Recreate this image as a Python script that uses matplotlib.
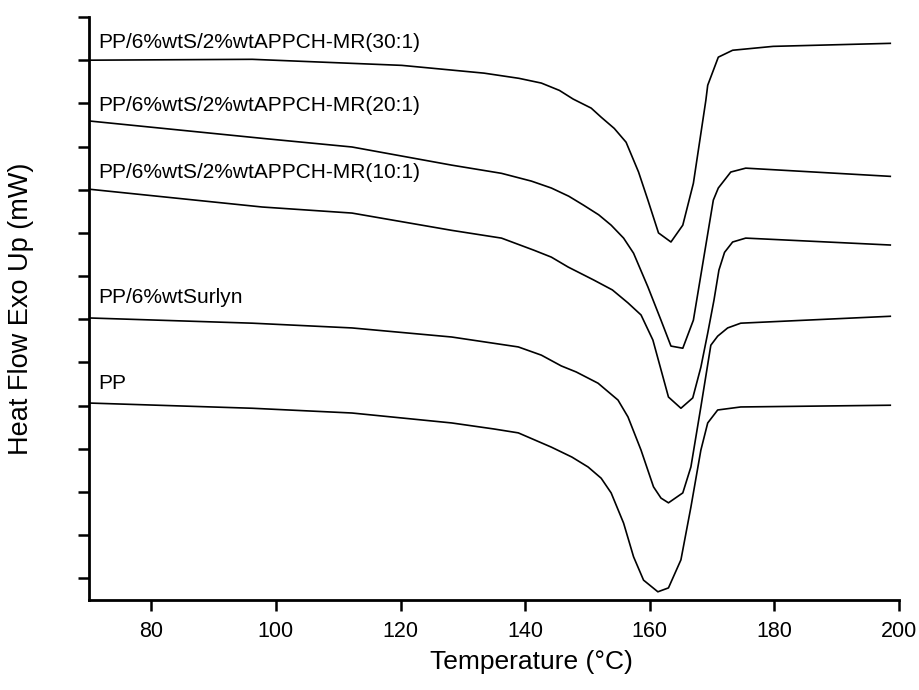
import matplotlib
matplotlib.use("Agg")
import matplotlib.pyplot as plt

# Temperature (°C) and heat-flow (arbitrary offset units)
t_30 = [70.2, 96.2, 120.2, 133.4, 139.0, 142.6, 145.5, 147.7, 150.6, 152.2, 154.3, 156.2, 158.2,
        159.7, 161.4, 163.4, 165.3, 167.0, 169.0, 169.3, 171.0, 173.3, 179.8, 198.6]
h_30 = [12.50, 12.52, 12.38, 12.20, 12.08, 11.97, 11.80, 11.60, 11.39, 11.18, 10.92, 10.60, 9.91,
        9.26, 8.50, 8.29, 8.68, 9.65, 11.57, 11.92, 12.57, 12.73, 12.82, 12.89]

t_20 = [70.2, 97.8, 112.2, 128.2, 136.2, 141.0, 144.2, 147.0, 149.4, 151.8, 153.8, 155.8, 157.4,
        159.7, 161.8, 163.4, 165.3, 167.0, 168.6, 170.2, 171.0, 173.0, 175.4, 198.6]
h_20 = [11.09, 10.69, 10.49, 10.07, 9.88, 9.70, 9.54, 9.35, 9.14, 8.92, 8.68, 8.38, 8.03,
        7.25, 6.48, 5.88, 5.83, 6.48, 7.87, 9.26, 9.54, 9.91, 10.00, 9.81]

t_10 = [70.2, 97.8, 112.2, 128.2, 136.2, 141.4, 144.2, 146.9, 151.0, 154.0, 156.5, 158.6, 160.5,
        163.0, 165.0, 166.9, 168.2, 169.3, 170.3, 171.1, 172.0, 173.3, 175.4, 198.6]
h_10 = [9.51, 9.10, 8.96, 8.56, 8.38, 8.10, 7.94, 7.71, 7.41, 7.18, 6.88, 6.60, 6.02,
        4.70, 4.44, 4.68, 5.39, 6.18, 6.94, 7.64, 8.05, 8.29, 8.38, 8.22]

t_s = [70.2, 96.2, 112.2, 128.2, 138.9, 142.6, 145.8, 148.2, 151.7, 154.9, 156.5, 158.6,
       160.6, 161.8, 163.0, 165.3, 166.6, 168.2, 169.8, 170.9, 172.5, 174.6, 198.6]
h_s = [6.53, 6.41, 6.30, 6.09, 5.86, 5.67, 5.42, 5.28, 5.02, 4.63, 4.24, 3.47,
       2.62, 2.36, 2.25, 2.48, 3.08, 4.47, 5.90, 6.11, 6.30, 6.41, 6.57]

t_pp = [70.2, 96.2, 112.2, 128.2, 135.0, 138.9, 144.2, 147.5, 150.1, 152.2, 153.8, 155.8, 157.4,
        159.0, 161.3, 163.0, 165.0, 166.6, 168.2, 169.3, 170.9, 174.6, 198.6]
h_pp = [4.56, 4.44, 4.33, 4.10, 3.96, 3.87, 3.54, 3.31, 3.08, 2.82, 2.48, 1.78, 1.00,
        0.46, 0.19, 0.28, 0.93, 2.15, 3.47, 4.10, 4.40, 4.47, 4.51]

labels = ["PP/6%wtS/2%wtAPPCH-MR(30:1)", "PP/6%wtS/2%wtAPPCH-MR(20:1)",
          "PP/6%wtS/2%wtAPPCH-MR(10:1)", "PP/6%wtSurlyn", "PP"]
label_y = [12.92, 11.46, 9.89, 7.01, 5.02]
label_x = 71.5

x_ticks = [80, 100, 120, 140, 160, 180, 200]
y_ticks = [0.5 + k for k in range(14)]

plt.rcParams['font.family'] = ['Liberation Sans', 'DejaVu Sans']

fig = plt.figure(figsize=(9.2, 6.9), dpi=100)
ax = fig.add_axes([89 / 920, 1 - 600 / 690, (899 - 89) / 920, (600 - 17) / 690])

for t, h in [(t_30, h_30), (t_20, h_20), (t_10, h_10), (t_s, h_s), (t_pp, h_pp)]:
    ax.plot(t, h, color='black', lw=1.2)

for lab, yy in zip(labels, label_y):
    ax.text(label_x, yy, lab, fontsize=15, va='center', ha='left', color='black')

ax.set_xlim(70, 200)
ax.set_ylim(0, 13.5)
ax.set_xticks(x_ticks)
ax.set_yticks(y_ticks)
ax.set_yticklabels([])
ax.spines['top'].set_visible(False)
ax.spines['right'].set_visible(False)
for s in ['left', 'bottom']:
    ax.spines[s].set_linewidth(2)
ax.tick_params(axis='both', direction='out', length=8, width=1.8)
ax.tick_params(axis='x', pad=7, labelsize=15.5)
ax.set_xlabel("Temperature (°C)", fontsize=19, labelpad=8)
ax.xaxis.set_label_coords(0.546, -0.085)
ax.set_ylabel("Heat Flow Exo Up (mW)", fontsize=19.5, labelpad=28)

fig.savefig("out.png", dpi=100)
